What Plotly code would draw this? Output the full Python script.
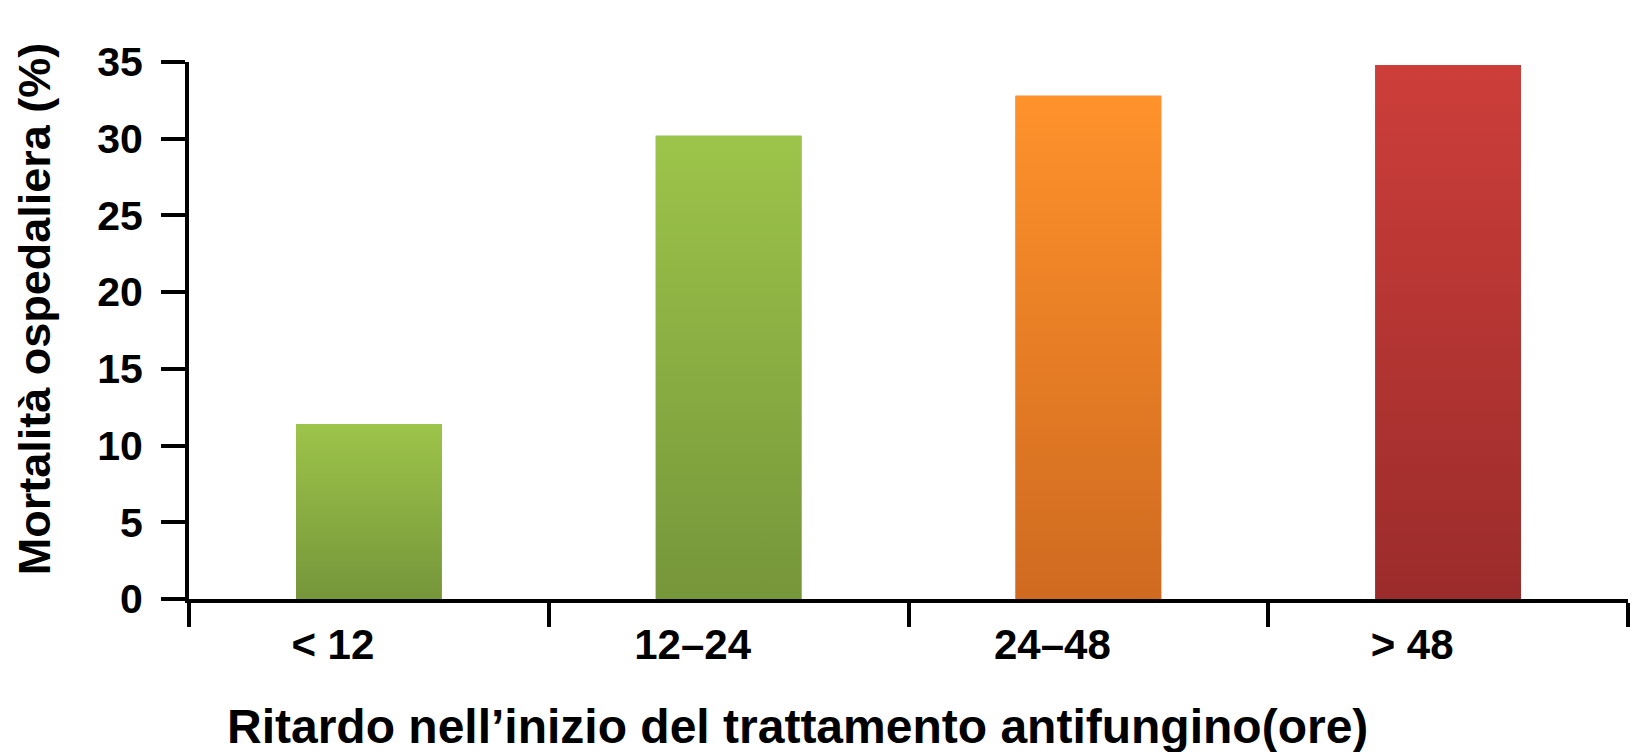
import plotly.graph_objects as go

# Mortalità ospedaliera per ritardo nell'inizio della terapia antifungina
categories = ["< 12", "12–24", "24–48", "> 48"]
mortality = [11.4, 30.2, 32.8, 34.8]
top_colors = ["#9dc44a", "#9dc44a", "#ff922b", "#cd3e3a"]
bottom_colors = ["#76963a", "#76963a", "#cf6a20", "#9b2c2b"]
y_ticks = [0, 5, 10, 15, 20, 25, 30, 35]

BAR_WIDTH = 0.405
FONT = "Liberation Sans, Arial, Helvetica, sans-serif"
AXIS_W = 4

fig = go.Figure()

# base bars on the category axis
fig.add_trace(go.Bar(
    x=categories, y=mortality, width=BAR_WIDTH,
    marker=dict(color=bottom_colors, line=dict(width=0)),
    showlegend=False, hovertemplate="%{x}: %{y}%<extra></extra>",
))

# vertical gradient overlay for each bar (linear twin axis)
for i, (v, top, bot) in enumerate(zip(mortality, top_colors, bottom_colors)):
    x0, x1 = i - BAR_WIDTH / 2, i + BAR_WIDTH / 2
    fig.add_trace(go.Scatter(
        x=[x0, x1, x1, x0, x0], y=[0, 0, v, v, 0],
        xaxis="x2", yaxis="y", mode="lines", line=dict(width=0),
        fill="toself",
        fillgradient=dict(type="vertical", colorscale=[[0, bot], [1, top]]),
        hoverinfo="skip", showlegend=False,
    ))

fig.update_layout(
    width=1636, height=752,
    margin=dict(l=189, r=8, t=62, b=153),
    paper_bgcolor="white", plot_bgcolor="white",
    showlegend=False,
    xaxis=dict(
        type="category", range=[-0.5, 3.5],
        tickson="boundaries", ticks="outside", ticklen=24,
        tickwidth=AXIS_W, tickcolor="black",
        showline=True, linewidth=AXIS_W, linecolor="black",
        showgrid=False, zeroline=False,
        ticklabelshift=-36, ticklabelstandoff=6,
        tickfont=dict(family=FONT, size=42, color="black", weight="bold"),
    ),
    xaxis2=dict(overlaying="x", anchor="y", range=[-0.5, 3.5], visible=False),
    yaxis=dict(
        range=[0, 35], tickvals=y_ticks, ticks="outside", ticklen=24,
        tickwidth=AXIS_W, tickcolor="black",
        showline=True, linewidth=AXIS_W, linecolor="black",
        showgrid=False, zeroline=False,
        ticklabelstandoff=10,
        tickfont=dict(family=FONT, size=41, color="black", weight="bold"),
    ),
    annotations=[
        dict(
            text="Mortalità ospedaliera (%)", textangle=-90,
            xref="paper", yref="paper", x=-0.1075, y=0.54,
            xanchor="center", yanchor="middle", showarrow=False,
            font=dict(family=FONT, size=45, color="black", weight="bold"),
        ),
        dict(
            text="Ritardo nell’inizio del trattamento antifungino(ore)",
            xref="paper", yref="paper", x=0.423, y=-0.237,
            xanchor="center", yanchor="middle", showarrow=False,
            font=dict(family=FONT, size=48, color="black", weight="bold"),
        ),
    ],
)

fig.write_html("out.html")
